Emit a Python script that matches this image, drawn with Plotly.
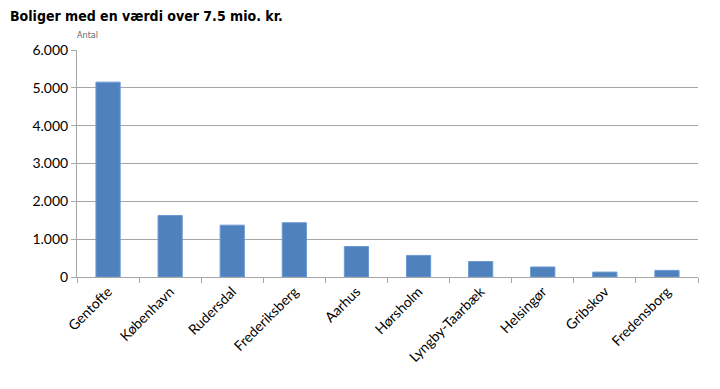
import plotly.graph_objects as go

categories = ["Gentofte", "København", "Rudersdal", "Frederiksberg", "Aarhus",
              "Hørsholm", "Lyngby-Taarbæk", "Helsingør", "Gribskov", "Fredensborg"]
values = [5150, 1625, 1370, 1435, 805, 570, 410, 265, 130, 175]
y_tickvals = [0, 1000, 2000, 3000, 4000, 5000, 6000]
y_ticktext = ["0", "1.000", "2.000", "3.000", "4.000", "5.000", "6.000"]
title_text = "Boliger med en værdi over 7.5 mio. kr."
unit_text = "Antal"

fig = go.Figure(go.Bar(
    x=categories, y=values,
    marker=dict(color="#4F81BD", line=dict(color="#6B9AD3", width=1)),
))

fig.update_layout(
    width=712, height=381,
    margin=dict(l=69, r=22, t=42, b=112),
    plot_bgcolor="white", paper_bgcolor="white",
    bargap=0.61,
    showlegend=False,
    font=dict(family="Lato, Liberation Sans, sans-serif", color="#000000"),
)
fig.add_annotation(text="<b>" + title_text + "</b>", xref="paper", yref="paper",
                   x=-69 / 621, y=1 + 34 / 227, xanchor="left", yanchor="middle", showarrow=False,
                   font=dict(family="DejaVu Sans Condensed, Liberation Sans", size=14, color="#000"))
fig.update_yaxes(
    range=[0, 6000], tickvals=y_tickvals, ticktext=y_ticktext,
    showgrid=True, gridcolor="#A6A6A6", gridwidth=1,
    showline=True, linecolor="#A6A6A6", linewidth=1,
    ticks="outside", ticklen=5, tickcolor="#A6A6A6",
    zeroline=False, tickfont=dict(size=14, color="#000"), automargin=False,
)
fig.update_xaxes(
    showline=True, linecolor="#A6A6A6", linewidth=1,
    ticks="outside", ticklen=5, tickcolor="#A6A6A6", tickson="boundaries",
    tickangle=-45, tickfont=dict(size=14, color="#000"), automargin=False,
)
fig.add_annotation(text=unit_text, xref="paper", yref="paper", x=-0.003, y=1.035,
                   xanchor="left", yanchor="bottom", showarrow=False,
                   font=dict(family="DejaVu Sans Condensed, Liberation Sans", size=9, color="#666"))

fig.write_html("out.html")
